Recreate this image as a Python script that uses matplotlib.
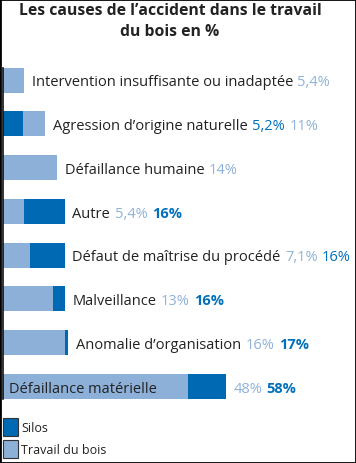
import matplotlib.pyplot as plt
from matplotlib.patches import Patch, Rectangle

plt.rcParams['font.family'] = ['Open Sans', 'DejaVu Sans']

# data
causes = ["Intervention insuffisante ou inadaptée", "Agression d\u2019origine naturelle",
          "Défaillance humaine", "Autre", "Défaut de maîtrise du procédé",
          "Malveillance", "Anomalie d\u2019organisation", "Défaillance matérielle"]
bois = [5.4, 11, 14, 5.4, 7.1, 13, 16, 48]
silos = [None, 5.2, None, 16, 16, 16, 17, 58]
bois_txt = ["5,4%", "11%", "14%", "5,4%", "7,1%", "13%", "16%", "48%"]
silos_txt = ["", "5,2%", "", "16%", "16%", "16%", "17%", "58%"]
silos_bold = [False, False, False, True, False, True, True, True]

dark = '#0069b4'
light = '#8db0d9'
txtdark = '#0070bb'
txtlight = '#8fb2da'
ink = '#222222'

W, H = 356, 464
fig = plt.figure(figsize=(W / 100, H / 100), dpi=100)
bh = 0.57
ax = fig.add_axes([3 / W, (H - 400) / H, 337 / W, 331.4 / H])
ax.set_xlim(0, 337 / 3.85)
ax.set_ylim(len(causes) - 1 + bh / 2, -bh / 2)
for s in ['top', 'right', 'bottom']:
    ax.spines[s].set_visible(False)
ax.spines['left'].set_linewidth(1.2)
ax.spines['left'].set_color('#111111')
ax.set_xticks([])
ax.set_yticks([])

fs = 10.5
dy = -3.8  # baseline offset so caps sit centred on the bar
for i in range(len(causes)):
    b = bois[i]
    s = silos[i] if silos[i] is not None else 0
    zb = 2 if b < s else 1
    ax.barh(i, b, height=bh, color=light, zorder=zb)
    if s:
        ax.barh(i, s, height=bh, color=dark, zorder=3 - zb)

    vals = [(bois_txt[i], txtlight, False, b)]
    if s:
        vals.append((silos_txt[i], txtdark, silos_bold[i], s))
    vals.sort(key=lambda v: v[3])
    end = max(b, s)
    if i == len(causes) - 1:
        ax.annotate(causes[i], (0, i), xytext=(4.5, dy), textcoords='offset points',
                    va='baseline', ha='left', fontsize=fs, color=ink, zorder=5)
        prev = ax.annotate(vals[0][0], (end, i), xytext=(5, dy), textcoords='offset points',
                           va='baseline', ha='left', fontsize=fs, color=vals[0][1])
        rest = vals[1:]
    else:
        prev = ax.annotate(causes[i], (end, i), xytext=(5.6, dy), textcoords='offset points',
                           va='baseline', ha='left', fontsize=fs, color=ink)
        rest = vals
    for t, c, bold, _ in rest:
        prev = ax.annotate(t, (1, i), xycoords=(prev, 'data'), xytext=(3.2, dy),
                           textcoords='offset points', va='baseline', ha='left',
                           fontsize=fs, color=c, fontweight='bold' if bold else 'normal')

fig.text(170 / W, 1 - 3 / H, "Les causes de l\u2019accident dans le travail\ndu bois en %",
         ha='center', va='top', fontsize=11.3, fontweight='bold', color=ink,
         linespacing=1.38)

handles = [Patch(facecolor=dark, edgecolor='#333333', lw=0.8, label='Silos'),
           Patch(facecolor=light, edgecolor='#333333', lw=0.8, label='Travail du bois')]
fig.legend(handles=handles, loc='lower left', bbox_to_anchor=(2.5 / W, 5 / H),
           frameon=False, fontsize=9, handlelength=1.2, handleheight=1.85,
           handletextpad=0.3, labelspacing=0.3, borderpad=0, borderaxespad=0,
           labelcolor=ink)

fig.patches.append(Rectangle((0, 0), 1, 1, transform=fig.transFigure, fill=False,
                             edgecolor='black', lw=2, zorder=10))

fig.savefig('out.png', dpi=100)
